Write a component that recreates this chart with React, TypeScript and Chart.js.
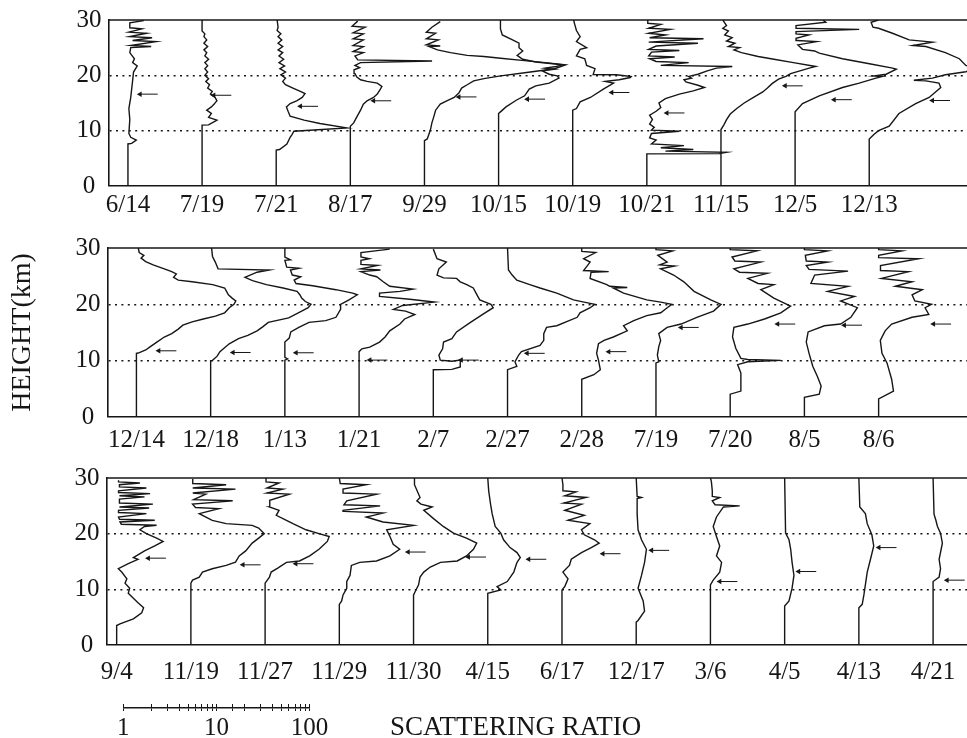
import React, { useEffect, useRef } from 'react';
import { Chart, registerables } from 'chart.js';

Chart.register(...registerables);

// ---------- DATA ----------
// Each profile: [height (km), log10(scattering ratio)].
type Pt = [number, number];

const DATES_1 = ['6/14', '7/19', '7/21', '8/17', '9/29', '10/15', '10/19', '10/21', '11/15', '12/5', '12/13'];
const DATES_2 = ['12/14', '12/18', '1/13', '1/21', '2/7', '2/27', '2/28', '7/19', '7/20', '8/5', '8/6'];
const DATES_3 = ['9/4', '11/19', '11/27', '11/29', '11/30', '4/15', '6/17', '12/17', '3/6', '4/5', '4/13', '4/21'];

const Y_TICKS = [0, 10, 20, 30];
const SCALE_LABELS = [1, 10, 100];

// Panel 1
const P1_0614: Pt[] = [[0,0],[7.6,0],[7.7,0.04],[8.3,0.09],[8.8,0.03],[9.5,0.01],[12,0.02],[14,0.01],[16,0.03],[17.5,0.04],[19,0.05],[20.6,0.06],[21.7,0.1],[22.3,0.05],[23,0.07],[24.1,0.02],[25,0.03],[25.2,0.25],[25.4,0.03],[26.1,0.3],[26.3,0.05],[26.8,0.26],[27,0.02],[27.6,0.2],[27.8,0.01],[28.4,0.15],[28.6,0.02],[29.5,0.02],[29.9,0.17]];
const P1_0719: Pt[] = [[0,0],[11,0],[11.05,0.07],[11.9,0.16],[12.4,0.07],[13.1,0.1],[13.7,0.05],[14.3,0.1],[14.8,0.13],[15.4,0.16],[16,0.14],[16.6,0.09],[17.1,0.11],[17.7,0.06],[18.3,0.08],[18.9,0.04],[19.4,0.07],[20,0.03],[20.6,0.06],[21.2,0.03],[21.75,0.06],[22.3,0.03],[22.9,0.07],[23.5,0.03],[24.1,0.05],[24.6,0.02],[25.2,0.06],[25.8,0.02],[26.4,0.05],[27,0.02],[27.5,0.03],[28,0],[30,0]];
const P1_0721: Pt[] = [[0,0],[6.5,0],[6.6,0.036],[7.6,0.115],[8.8,0.15],[9.3,0.17],[9.9,0.19],[10.5,0.76],[11.3,0.47],[11.9,0.3],[12.6,0.15],[13.4,0.13],[14.3,0.11],[14.9,0.15],[15.4,0.22],[16.0,0.28],[16.7,0.31],[17.1,0.26],[17.7,0.18],[18.3,0.1],[18.9,0.07],[19.5,0.1],[20.1,0.05],[20.6,0.1],[21.2,0.04],[21.7,0.09],[22.3,0.03],[22.9,0.08],[23.5,0.03],[24.1,0.07],[24.6,0.02],[25.2,0.07],[25.8,0.02],[26.4,0.06],[27,0.02],[27.5,0.05],[28.1,0.01],[28.7,0.02],[30,0.01]];
const P1_0817: Pt[] = [[0,0],[10.8,0],[11.4,0.036],[12.5,0.07],[13.7,0.11],[14.8,0.14],[15.4,0.18],[16,0.25],[16.6,0.29],[17.4,0.32],[18,0.34],[18.6,0.29],[18.9,0.18],[19.2,0.11],[19.7,0.07],[20.3,0.05],[21,0.04],[21.4,0.1],[21.8,0.05],[22.3,0.11],[22.6,0.88],[22.8,0.08],[23.5,0.05],[24.1,0.14],[24.3,0.03],[25.2,0.14],[25.4,0.03],[26.4,0.14],[26.6,0.03],[27.5,0.14],[27.7,0.03],[28.7,0.16],[28.9,0.02],[29.8,0.08]];
const P1_0929: Pt[] = [[0,0],[8.2,0],[8.5,0.03],[9.3,0.047],[10.2,0.065],[11.4,0.08],[12.5,0.1],[13.7,0.12],[14.8,0.17],[15.4,0.24],[16,0.32],[16.8,0.37],[17.7,0.4],[18.3,0.46],[19,0.53],[19.4,0.64],[19.9,0.82],[20.5,1.1],[21.2,1.4],[21.9,1.52],[22.3,1.3],[22.7,1.05],[23.1,0.82],[23.4,0.64],[23.6,0.46],[24.1,0.28],[24.6,0.14],[25.2,0.05],[25.3,0.17],[25.5,0.02],[26.4,0.15],[26.6,0.02],[27.6,0.12],[27.8,0.02],[28.7,0.08],[29.7,0.17]];
const P1_1015: Pt[] = [[0,0],[13.1,0],[13.4,0.02],[14.3,0.08],[15.5,0.19],[16.3,0.28],[17.5,0.33],[18.1,0.4],[18.6,0.545],[19.5,0.65],[19.9,0.63],[20.2,0.545],[20.8,0.47],[21.1,0.6],[21.3,0.5],[21.6,0.62],[21.9,0.69],[22.4,0.4],[22.9,0.26],[23.6,0.2],[24.4,0.26],[25,0.22],[25.8,0.22],[26.4,0.15],[27.3,0.04],[28.4,0.02],[30,0.02]];
const P1_1019: Pt[] = [[0,0],[13.7,0],[14,0.04],[15.2,0.08],[16,0.19],[17.5,0.33],[18.6,0.44],[18.9,0.35],[19.2,0.5],[19.6,0.62],[19.8,0.63],[20.1,0.47],[20.15,0.22],[21.2,0.24],[21.8,0.15],[23,0.13],[23.5,0.04],[24.7,0.08],[25,0.15],[26.1,0.04],[27,0.08],[28.1,0.04],[29.3,0.02],[30,0.01]];
const P1_1021: Pt[] = [[0,0],[5.8,0],[5.85,0.78],[6.1,0.86],[6.3,0.2],[6.6,0.5],[6.9,0.15],[7.3,0.4],[7.6,0.05],[8.3,0.1],[8.7,0.03],[9.5,0.05],[9.9,0.35],[10.1,0.05],[10.6,0.08],[11.2,0.03],[12,0.06],[12.8,0.03],[13.5,0.1],[14.2,0.15],[15,0.13],[15.8,0.2],[16.6,0.35],[17.2,0.5],[17.8,0.62],[18.2,0.55],[18.8,0.42],[19.2,0.4],[19.5,0.48],[19.8,0.45],[20.2,0.55],[20.8,0.65],[21.3,0.75],[21.6,0.92],[21.8,0.15],[22.3,0.45],[22.5,0.1],[23,0.03],[23.3,0.3],[23.5,0.02],[24.2,0.05],[24.5,0.35],[24.7,0.02],[25.3,0.1],[25.8,0.55],[26.0,0.02],[26.6,0.61],[26.8,0.03],[27.3,0.2],[27.6,0.02],[28.3,0.25],[28.5,0.02],[29.2,0.15],[29.4,0.01],[30,0.01]];
const P1_1115: Pt[] = [[0,0],[10.2,0],[11,0.03],[12,0.06],[13,0.1],[14,0.17],[15,0.25],[16,0.35],[17,0.45],[17.7,0.5],[18.5,0.55],[19.3,0.62],[19.8,0.7],[20.3,0.75],[20.8,0.85],[21.3,0.95],[21.6,1.02],[22.3,0.78],[22.9,0.57],[23.4,0.4],[24.1,0.22],[24.6,0.14],[25,0.2],[25.2,0.08],[25.8,0.15],[26.2,0.06],[26.8,0.12],[27.3,0.04],[28,0.08],[28.5,0.02],[29,0.06],[30,0.02]];
const P1_1205: Pt[] = [[0,0],[13.4,0],[14.9,0.08],[16.3,0.26],[17.8,0.51],[18.6,0.69],[19.5,0.87],[19.8,0.94],[19.9,0.85],[20.2,0.98],[21.1,1.09],[21.3,1.05],[22.1,0.8],[23,0.51],[24,0.26],[24.4,0.21],[24.7,0.08],[25.5,0.03],[26.1,0.23],[26.3,0.02],[26.7,0.01],[27.3,0.15],[27.5,0.01],[27.9,0.01],[28.3,0.69],[28.5,0.01],[29,0.01],[29.6,0.33],[30,0.3]];
const P1_1213: Pt[] = [[0,0],[8.5,0],[9.3,0.05],[10,0.1],[10.8,0.215],[13.1,0.32],[14.9,0.5],[16,0.645],[17.8,0.77],[18.6,0.75],[19,0.61],[19.1,0.48],[19.5,0.68],[20.1,0.82],[20.65,1.04],[21.2,1.15],[21.8,1.04],[23,0.97],[24.1,0.82],[25.2,0.61],[25.4,0.47],[26,0.68],[26.4,0.43],[27.6,0.25],[28.5,0.1],[28.7,0.04],[29.6,0.02],[30,0.1]];

// Panel 2
const P2_1214: Pt[] = [[0,0],[11.3,0],[11.35,0.02],[11.9,0.1],[12.5,0.15],[13.3,0.22],[14.2,0.3],[14.8,0.38],[15.6,0.45],[16.3,0.5],[16.9,0.6],[17.4,0.72],[17.9,0.85],[18.5,0.95],[19.4,1.0],[20,1.05],[20.6,1.07],[21.1,1.03],[21.7,0.99],[22.3,0.97],[22.9,0.95],[23.5,0.82],[24,0.6],[24.3,0.45],[24.8,0.4],[25.4,0.43],[25.8,0.38],[26.3,0.3],[27,0.18],[27.6,0.1],[28.2,0.05],[28.7,0.08],[29.2,0.03],[30,0.02]];
const P2_1218: Pt[] = [[0,0],[10,0],[10.05,0.02],[10.8,0.07],[11.6,0.1],[12.3,0.15],[13,0.2],[13.9,0.3],[14.5,0.4],[15.3,0.5],[16,0.56],[16.8,0.62],[17.6,0.84],[18.8,0.98],[19.4,1.05],[20,1.08],[20.5,1.02],[21.1,0.98],[21.7,0.96],[22.3,0.93],[22.9,0.78],[23.5,0.6],[24.2,0.45],[24.8,0.37],[25,0.4],[25.7,0.5],[26.1,0.63],[26.3,0.08],[27.5,0.05],[28.5,0.02],[30,0.01]];
const P2_0113: Pt[] = [[0,0],[10.1,0],[10.3,0.03],[10.6,0],[13.3,0],[14,0.047],[15.1,0.064],[15.9,0.15],[16.8,0.26],[17.1,0.44],[17.7,0.55],[19.1,0.6],[20,0.6],[20.8,0.69],[21.7,0.78],[22,0.73],[22.6,0.55],[23.3,0.3],[23.7,0.12],[24.3,0.1],[24.9,0.17],[25.2,0.08],[26.1,0.06],[26.4,0.15],[26.6,0.02],[27.8,0],[27.9,0.06],[28.4,0],[30,0]];
const P2_0121: Pt[] = [[0,0],[11.6,0],[12.1,0.03],[12.4,0.115],[13.3,0.22],[14.2,0.28],[15.3,0.33],[16.5,0.44],[17.4,0.49],[18.2,0.6],[18.8,0.5],[19.1,0.37],[19.8,0.47],[20.4,0.81],[20.9,0.545],[21.4,0.22],[22,0.22],[22.3,0.44],[22.7,0.58],[23.2,0.33],[24,0.26],[24.9,0.19],[25.2,0.115],[25.8,0.02],[26.1,0.23],[26.3,0.02],[26.9,0.2],[27.1,0.02],[27.8,0.02],[28.1,0.11],[28.4,0.02],[29.2,0.02],[29.8,0.33]];
const P2_0207: Pt[] = [[0,0],[8.4,0],[8.45,0.2],[8.9,0.29],[10.1,0.29],[9.9,0.2],[10.1,0.075],[11,0.06],[12.1,0.1],[13.3,0.11],[13.9,0.2],[15.1,0.25],[16.8,0.4],[18.3,0.54],[19.4,0.645],[20,0.62],[20.8,0.5],[22,0.46],[22.9,0.43],[23.5,0.36],[24,0.29],[24.6,0.25],[24.7,0.11],[25.2,0.04],[26.3,0.06],[27.5,0.14],[28.1,0.04],[29.8,0]];
const P2_0227: Pt[] = [[0,0],[8.4,0],[9,0.1],[9.8,0.08],[11,0.12],[11.6,0.15],[12.7,0.35],[13.6,0.39],[14.8,0.39],[15.9,0.42],[16.2,0.53],[17.7,0.75],[18.5,0.78],[19.4,0.89],[20,0.94],[20.3,0.85],[20.8,0.71],[22,0.53],[22.9,0.35],[23.5,0.24],[24.3,0.1],[25.2,0.05],[26.1,0.01],[30,0]];
const P2_0228: Pt[] = [[0,0],[6.7,0],[7.5,0.13],[8.4,0.2],[10.1,0.18],[11.3,0.16],[13,0.18],[13.6,0.24],[14.2,0.34],[15.3,0.49],[16.2,0.45],[17.1,0.56],[18,0.7],[18.5,0.85],[19.4,0.92],[20,0.97],[20.4,0.85],[20.8,0.7],[22,0.45],[22.9,0.34],[23,0.49],[23.2,0.3],[23.5,0.27],[24.6,0.09],[25.7,0.1],[25.8,0.29],[26,0.02],[27.5,0.09],[28.1,0.02],[29.2,0.15],[29.4,0],[30,0]];
const P2_0719: Pt[] = [[0,0],[9.6,0],[9.8,0.03],[11,0.015],[12.45,0.03],[13.6,0.05],[14.8,0.03],[15.9,0.12],[16.5,0.27],[17.7,0.44],[18.8,0.62],[20,0.7],[20.8,0.59],[22.3,0.41],[24,0.3],[25.2,0.19],[26.3,0.05],[26.8,0.2],[27,0.04],[27.5,0.12],[28.7,0.02],[29.5,0.18],[29.7,0],[30,0]];
const P2_0720: Pt[] = [[0,0],[4.05,0],[4.6,0.115],[7.8,0.115],[9.3,0.08],[9.8,0.19],[10.05,0.545],[10.2,0.19],[10.4,0.115],[12.2,0.06],[14.2,0.025],[15.9,0.04],[16.5,0.19],[17.4,0.37],[18.5,0.545],[19.7,0.65],[21.1,0.47],[22.6,0.33],[23.5,0.47],[23.7,0.3],[24.6,0.19],[25.5,0.4],[25.7,0.1],[26.3,0.04],[27.5,0.33],[27.7,0.05],[28.4,0.02],[29.5,0.29],[29.7,0],[30,0]];
const P2_0805: Pt[] = [[0,0],[3.5,0],[4.05,0.16],[5.5,0.18],[7.2,0.14],[9,0.09],[11.3,0.05],[13.3,0.02],[15.1,0.04],[16.2,0.215],[16.5,0.39],[17.7,0.5],[19.4,0.57],[20.6,0.39],[21.4,0.54],[22.3,0.25],[23.2,0.47],[23.7,0.07],[25.2,0.11],[25.9,0.47],[26.2,0.05],[26.9,0.02],[27.5,0.25],[27.7,0.02],[28.7,0.01],[29.5,0.25],[29.7,0],[30,0]];
const P2_0806: Pt[] = [[0,0],[3.2,0],[4.6,0.16],[6.7,0.14],[9.6,0.09],[11.3,0.036],[13.6,0.018],[15.3,0.07],[16.5,0.14],[17.7,0.36],[18.2,0.54],[19.4,0.5],[20,0.57],[20.6,0.39],[21.7,0.36],[22.6,0.47],[23.2,0.18],[24,0.36],[24.6,0.03],[25.8,0.32],[26,0.02],[26.9,0.02],[28.1,0.43],[28.3,0],[28.7,0],[29.5,0.25],[29.7,0],[30,0]];

// Panel 3
const P3_0904: Pt[] = [[0,0],[3.5,0],[3.8,0.036],[4.7,0.18],[5.8,0.27],[6.7,0.29],[7.6,0.23],[8.4,0.18],[9.3,0.125],[10.2,0.14],[11.1,0.09],[11.9,0.11],[13.1,0.054],[13.7,0.018],[14.6,0.125],[15.4,0.23],[15.7,0.18],[16.9,0.3],[17.8,0.41],[18.6,0.5],[19.2,0.43],[20,0.32],[20.7,0.25],[21.3,0.3],[21.5,0.43],[21.7,0.05],[22.1,0.036],[22.4,0.41],[22.6,0.03],[23.0,0.02],[23.6,0.32],[23.8,0.02],[24.2,0.02],[24.6,0.35],[24.8,0.03],[25.3,0.39],[25.5,0.03],[26.2,0.03],[26.6,0.3],[26.8,0.03],[27.2,0.36],[27.4,0.02],[27.7,0.02],[28.2,0.32],[28.4,0.03],[28.8,0.03],[29.1,0.25],[29.3,0.02],[29.6,0.02]];
const P3_1119: Pt[] = [[0,0],[11.1,0],[11.65,0.018],[12.2,0.09],[13.1,0.125],[13.7,0.23],[14.3,0.38],[14.9,0.48],[16,0.52],[16.9,0.59],[18.3,0.66],[19.2,0.73],[20,0.79],[21,0.73],[21.5,0.66],[21.8,0.38],[22.4,0.23],[23.6,0.09],[24.5,0.3],[24.7,0.05],[25.3,0.018],[25.9,0.45],[26.1,0.03],[27.1,0.16],[27.3,0.02],[28,0.48],[28.2,0.02],[28.8,0.38],[29,0.02],[29.8,0.02]];
const P3_1127: Pt[] = [[0,0],[11.1,0],[12.2,0.047],[13.1,0.065],[13.8,0.136],[14.85,0.23],[15.1,0.37],[16,0.48],[17.2,0.58],[18.6,0.67],[19.5,0.69],[20,0.58],[20.7,0.44],[21.8,0.3],[22.4,0.23],[23.3,0.12],[24.2,0.15],[24.8,0.047],[26,0.05],[27.1,0.26],[27.3,0.02],[28,0.19],[28.2,0.02],[29.1,0.15],[29.3,0.01],[30,0.01]];
const P3_1129: Pt[] = [[0,0],[7.3,0],[7.9,0.025],[9,0.04],[10.2,0.08],[11.4,0.08],[12.5,0.115],[14.3,0.13],[14.85,0.22],[15.1,0.4],[16,0.545],[17.2,0.65],[18.1,0.58],[19.5,0.545],[20.7,0.51],[21.5,0.8],[22.1,0.47],[23,0.29],[23.7,0.47],[24,0.05],[24.2,0.04],[25,0.44],[25.2,0.05],[25.9,0.08],[27.1,0.4],[27.3,0.04],[28,0.04],[28.8,0.29],[29,0.01],[30,0]];
const P3_1130: Pt[] = [[0,0],[9,0],[9.6,0.018],[10.8,0.054],[12.2,0.07],[13.1,0.11],[14,0.18],[14.85,0.29],[15.1,0.47],[16,0.57],[17.2,0.645],[18.3,0.68],[19.2,0.57],[20.1,0.43],[21.3,0.32],[22.7,0.215],[24.2,0.11],[24.8,0.2],[25.3,0.08],[25.9,0.036],[26.5,0.07],[28.8,0.01],[30,0.01]];
const P3_0415: Pt[] = [[0,0],[9.3,0],[9.9,0.14],[10.5,0.1],[11.4,0.21],[13.1,0.28],[14.85,0.315],[15.7,0.35],[16.6,0.315],[17.5,0.24],[18.9,0.17],[20.1,0.14],[21.3,0.08],[23.6,0.047],[25.3,0.03],[27.7,0.01],[30,0]];
const P3_0617: Pt[] = [[0,0],[9.9,0],[10.5,0.03],[11.9,0.065],[13.1,0.01],[14.3,0.08],[15.4,0.1],[16.6,0.21],[17.5,0.315],[18.3,0.4],[18.9,0.35],[19.8,0.24],[20.7,0.21],[21.8,0.3],[22.4,0.065],[23.3,0.24],[24.2,0.03],[25.3,0.21],[25.5,0.02],[26.5,0.26],[26.8,0.03],[27.5,0.15],[27.7,0.01],[28.8,0.01],[30,0]];
const P3_1217: Pt[] = [[0,0],[4.1,0],[4.4,0.02],[6.1,0.09],[7.9,0.075],[10.2,0.02],[12.5,0.057],[14.85,0.09],[17.2,0.11],[18.9,0.057],[20.7,0.02],[23.6,0.01],[26.3,0.01],[26.5,0.057],[26.7,0.01],[30,0]];
const P3_0306: Pt[] = [[0,0],[10.8,0],[11.65,0.03],[13.1,0.1],[14.85,0.12],[16,0.065],[17.8,0.1],[19.5,0.065],[21.3,0.03],[23,0.065],[24.8,0.14],[25,0.315],[25.2,0.05],[25.9,0.02],[26.5,0.1],[26.7,0.02],[27.7,0.02],[29.4,0.01],[30,0]];
const P3_0405: Pt[] = [[0,0],[7.0,0],[7.9,0.047],[10.2,0.08],[12.5,0.1],[14.85,0.08],[17.2,0.065],[18.9,0.047],[20.1,0.01],[30,0]];
const P3_0413: Pt[] = [[0,0],[6.7,0],[7.3,0.036],[9,0.054],[10.8,0.07],[13.1,0.09],[15.4,0.125],[17.8,0.16],[19.8,0.14],[21.8,0.09],[23.6,0.07],[24.8,0.01],[30,0]];
const P3_0421: Pt[] = [[0,0],[11.4,0],[12.2,0.065],[13.7,0.08],[15.4,0.065],[18.3,0.1],[20.1,0.08],[21.3,0.047],[22.4,0.03],[23.5,0.01],[30,0]];

const PROFILES_1 = [P1_0614, P1_0719, P1_0721, P1_0817, P1_0929, P1_1015, P1_1019, P1_1021, P1_1115, P1_1205, P1_1213];
const PROFILES_2 = [P2_1214, P2_1218, P2_0113, P2_0121, P2_0207, P2_0227, P2_0228, P2_0719, P2_0720, P2_0805, P2_0806];
const PROFILES_3 = [P3_0904, P3_1119, P3_1127, P3_1129, P3_1130, P3_0415, P3_0617, P3_1217, P3_0306, P3_0405, P3_0413, P3_0421];

// Arrow markers: height (km) and log10 scattering ratio of the arrow tip
const ARROW_H_1 = [16.6, 16.4, 14.4, 15.4, 16.1, 15.7, 16.9, 13.2, 18.1, 15.6, 15.45];
const ARROW_X_1 = [0.13, 0.125, 0.26, 0.25, 0.37, 0.31, 0.42, 0.215, 0.69, 0.42, 0.68];
const ARROW_H_2 = [11.75, 11.45, 11.4, 10.1, 10.1, 11.3, 11.6, 15.9, 16.5, 16.3, 16.5];
const ARROW_X_2 = [0.24, 0.24, 0.12, 0.115, 0.3, 0.21, 0.29, 0.27, 0.51, 0.43, 0.59];
const ARROW_H_3 = [15.6, 14.4, 14.6, 16.7, 15.8, 15.4, 16.4, 17.0, 11.4, 13.2, 17.5, 11.65];
const ARROW_X_3 = [0.34, 0.56, 0.33, 0.74, 0.59, 0.44, 0.44, 0.165, 0.1, 0.15, 0.215, 0.15];

// ---------- STYLE / LAYOUT ----------
const INK = '#161616';
const SERIF = "'Liberation Serif', 'Times New Roman', serif";
const PX_PER_DECADE = 93;
const CANVAS_W = 972;
const AXIS_H = 40;

interface PanelCfg { top: number; plotTop: number; plotBottom: number; left: number; first: number; step: number; labelPad: number; }
const PANEL_1: PanelCfg = { top: 0, plotTop: 12.6, plotBottom: 186, left: 109, first: 0.204, step: 0.798, labelPad: 4 };
const PANEL_2: PanelCfg = { top: 228, plotTop: 244, plotBottom: 417, left: 108, first: 0.306, step: 0.799, labelPad: 8 };
const PANEL_3: PanelCfg = { top: 458, plotTop: 473.3, plotBottom: 645, left: 107, first: 0.104, step: 0.799, labelPad: 12 };

const topLine = {
  id: 'topLine',
  beforeDatasetsDraw(chart: any) {
    const { ctx, chartArea: a } = chart;
    ctx.save();
    ctx.strokeStyle = INK;
    ctx.lineWidth = 1.6;
    ctx.beginPath();
    ctx.moveTo(a.left, a.top);
    ctx.lineTo(a.right + 4, a.top);
    ctx.stroke();
    ctx.restore();
  },
};

function canvasH(cfg: PanelCfg) {
  return Math.round(cfg.plotBottom - cfg.top + AXIS_H);
}

function makePanel(canvas: HTMLCanvasElement, cfg: PanelCfg, dates: string[], profiles: Pt[][], arrowH: number[], arrowX: number[], title: string | null) {
  const bases = dates.map((_, i) => cfg.first + i * cfg.step);
  const right = CANVAS_W - 3;
  const xmax = (right - cfg.left) / PX_PER_DECADE;
  const datasets: any[] = [];
  profiles.forEach((p, i) => {
    datasets.push({
      data: p.map(([h, l]) => ({ x: bases[i] + l, y: h })),
      showLine: true,
      borderColor: INK,
      borderWidth: 1.4,
      pointRadius: 0,
      tension: 0,
    });
  });
  arrowH.forEach((h, i) => {
    const tip = bases[i] + arrowX[i];
    datasets.push({
      data: [{ x: tip, y: h }, { x: tip + 0.19, y: h }],
      showLine: true,
      borderColor: INK,
      borderWidth: 1,
      pointRadius: [3.2, 0],
      pointStyle: 'triangle',
      pointRotation: -90,
      pointBackgroundColor: INK,
      pointBorderColor: INK,
      pointBorderWidth: 0,
    });
  });
  return new Chart(canvas, {
    type: 'scatter',
    data: { datasets },
    options: {
      responsive: false,
      animation: false,
      events: [],
      layout: { padding: { top: cfg.plotTop - cfg.top, left: 0, right: 0, bottom: 0 } },
      plugins: { legend: { display: false }, tooltip: { enabled: false } },
      scales: {
        x: {
          type: 'linear',
          min: 0,
          max: xmax,
          grid: { display: false, drawTicks: false },
          border: { display: true, color: INK, width: 1.6 },
          afterBuildTicks: (s: any) => { s.ticks = bases.map((v) => ({ value: v })); },
          afterFit: (s: any) => { s.height = AXIS_H; },
          ticks: {
            autoSkip: false,
            maxRotation: 0,
            padding: cfg.labelPad,
            color: INK,
            font: { family: SERIF, size: 25 },
            callback: (_v: any, i: number) => dates[i],
          },
        },
        y: {
          type: 'linear',
          min: 0,
          max: 30,
          afterBuildTicks: (s: any) => { s.ticks = Y_TICKS.map((v) => ({ value: v })); },
          afterFit: (s: any) => { s.width = cfg.left; },
          grid: {
            display: true,
            drawTicks: false,
            color: INK,
            lineWidth: (c: any) => (c.tick && (c.tick.value === 10 || c.tick.value === 20) ? 1.6 : 0),
          },
          border: { display: true, color: INK, width: 1.6, dash: [2, 4.4] },
          ticks: {
            padding: 7.5,
            crossAlign: 'center',
            color: INK,
            font: { family: SERIF, size: 25, lineHeight: 1 },
            callback: (v: any) => String(v),
          },
          title: title
            ? { display: true, text: title, color: INK, font: { family: SERIF, size: 28 }, padding: { top: 6, bottom: 0 } }
            : { display: false },
        },
      },
    } as any,
    plugins: [topLine],
  });
}

function makeScaleBar(canvas: HTMLCanvasElement) {
  return new Chart(canvas, {
    type: 'scatter',
    data: { datasets: [] },
    options: {
      responsive: false,
      animation: false,
      events: [],
      layout: { padding: { left: 123.3, right: 400 - 309.5, top: 14, bottom: 0 } },
      plugins: { legend: { display: false }, tooltip: { enabled: false } },
      scales: {
        x: {
          type: 'logarithmic',
          min: 1,
          max: 100,
          afterFit: (s: any) => { s.height = 30; },
          grid: { display: true, drawOnChartArea: true, drawTicks: true, tickLength: 3, color: INK, lineWidth: 1 },
          border: { display: true, color: INK, width: 1.5 },
          ticks: {
            autoSkip: false,
            maxRotation: 0,
            padding: 2,
            color: INK,
            font: { family: SERIF, size: 25 },
            callback: (v: any) => (SCALE_LABELS.includes(Number(v)) ? String(v) : ''),
          },
        },
        y: { display: false, min: 0, max: 1 },
      },
    } as any,
  });
}

export default function App() {
  const c1 = useRef<HTMLCanvasElement>(null);
  const c2 = useRef<HTMLCanvasElement>(null);
  const c3 = useRef<HTMLCanvasElement>(null);
  const c4 = useRef<HTMLCanvasElement>(null);

  useEffect(() => {
    const charts = [
      makePanel(c1.current!, PANEL_1, DATES_1, PROFILES_1, ARROW_H_1, ARROW_X_1, null),
      makePanel(c2.current!, PANEL_2, DATES_2, PROFILES_2, ARROW_H_2, ARROW_X_2, 'HEIGHT(km)'),
      makePanel(c3.current!, PANEL_3, DATES_3, PROFILES_3, ARROW_H_3, ARROW_X_3, null),
      makeScaleBar(c4.current!),
    ];
    return () => charts.forEach((c) => c.destroy());
  }, []);

  const cs = (top: number): React.CSSProperties => ({ position: 'absolute', left: 0, top, display: 'block' });

  return (
    <div style={{ position: 'absolute', left: 0, top: 0, width: 967, height: 738, overflow: 'hidden', background: '#ffffff' }}>
      <canvas ref={c1} width={CANVAS_W} height={canvasH(PANEL_1)} style={cs(PANEL_1.top)} />
      <canvas ref={c2} width={CANVAS_W} height={canvasH(PANEL_2)} style={cs(PANEL_2.top)} />
      <canvas ref={c3} width={CANVAS_W} height={canvasH(PANEL_3)} style={cs(PANEL_3.top)} />
      <canvas ref={c4} width={400} height={48} style={cs(690)} />
      <div
        style={{
          position: 'absolute',
          left: 390,
          top: 713,
          fontFamily: SERIF,
          fontSize: 27,
          lineHeight: '27px',
          color: INK,
          whiteSpace: 'nowrap',
        }}
      >
        SCATTERING RATIO
      </div>
    </div>
  );
}
